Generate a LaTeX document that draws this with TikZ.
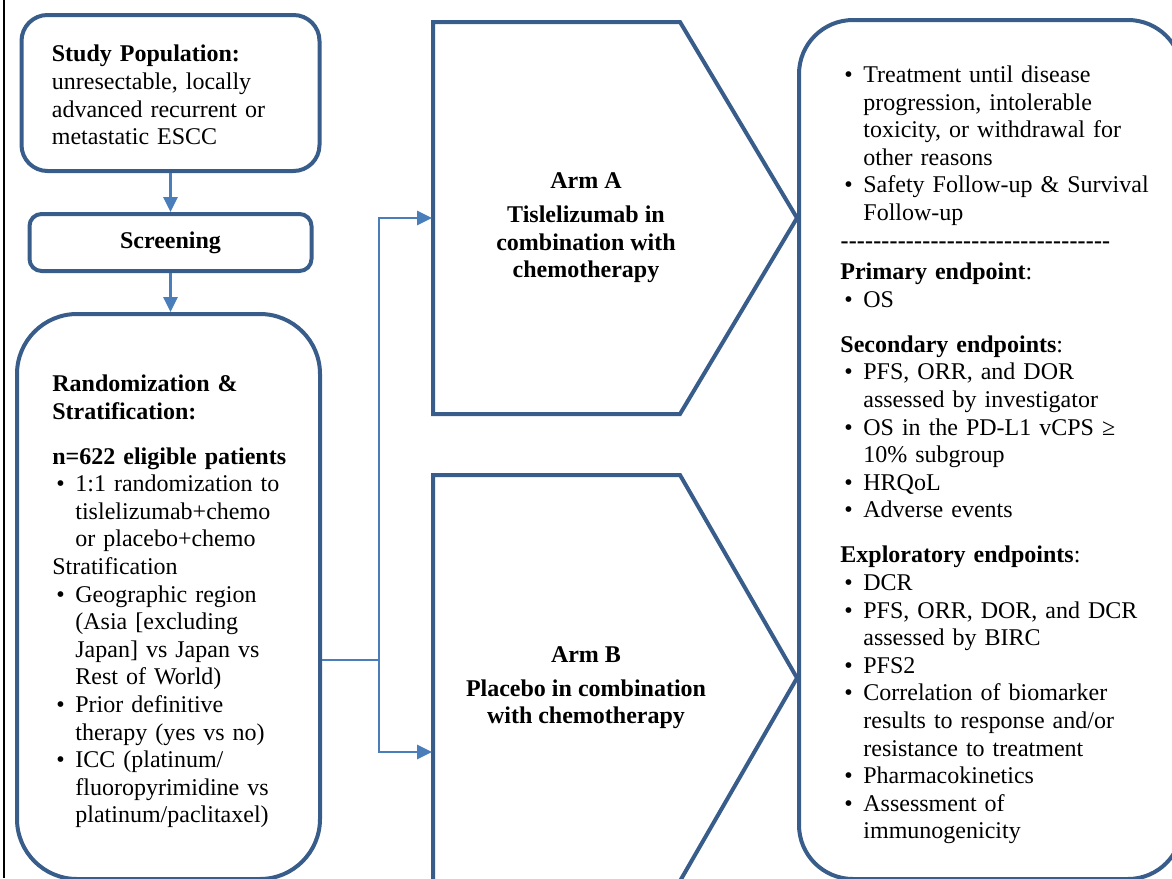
\documentclass[tikz,border=0pt]{standalone}
\usepackage{fontspec}
\setmainfont{Liberation Serif}
\usetikzlibrary{arrows.meta}
\definecolor{boxblue}{RGB}{56,93,138}
\definecolor{linkblue}{RGB}{74,126,187}
\setlength{\parindent}{0pt}
\hyphenpenalty=10000
\newcommand{\bul}[1]{\par\hangindent=11.5pt\hangafter=1\noindent\hbox to 11.5pt{\hskip2pt\textbullet\hfil}#1\par}
\newcommand{\dashrow}{\hbox to 135pt{\bfseries\xleaders\hbox{-}\hfill}\par}
\begin{document}
\begin{tikzpicture}[x=0.5pt,y=-0.5pt,
    panel/.style={draw=boxblue,line width=2pt},
    link/.style={draw=linkblue,line width=1.4pt},
    tip/.style={-{Triangle[length=7.5pt,width=7pt]}},
    txt/.style={font=\fontsize{12pt}{13.8pt}\selectfont,inner sep=0pt,anchor=west,align=left},
    btxt/.style={font=\fontsize{12pt}{13.8pt}\selectfont\bfseries}]
    \useasboundingbox (0,0) rectangle (1172,878);
    \clip (0,0) rectangle (1172,878);
    \draw[line width=1pt] (4,0) -- (4,878);

    \node (study) at (170.5,93)[panel,rounded corners=13pt,minimum width=149pt,minimum height=78pt]{};
    \node (studytext) at ([xshift=16pt,yshift=-1pt]study.west)[txt,text width=130pt]
        {\textbf{Study Population:}\newline unresectable, locally\newline advanced recurrent or\newline metastatic ESCC};
    \node (screen) at (170.5,242.5)[panel,btxt,rounded corners=6pt,minimum width=141pt,minimum height=28.5pt]{Screening};
    \node (rand) at (168.5,596.5)[panel,rounded corners=30pt,minimum width=151.5pt,minimum height=282.5pt]{};
    \node (randtext) at ([xshift=18.5pt,yshift=-2.5pt]rand.west)[txt,text width=130pt]
        {\textbf{Randomization \&}\newline \textbf{Stratification:}\par\vspace{8.7pt}
         \textbf{n=622 eligible patients}\par
         \bul{1:1 randomization to\newline tislelizumab+chemo\newline or placebo+chemo}
         Stratification\par
         \bul{Geographic region\newline (Asia [excluding\newline Japan] vs Japan vs\newline Rest of World)}
         \bul{Prior definitive\newline therapy (yes vs no)}
         \bul{ICC (platinum/\newline fluoropyrimidine vs\newline platinum/paclitaxel)}};

    \draw[panel] (433,22) -- (680,22) -- (797,218) -- (680,414) -- (433,414) -- cycle;
    \draw[panel] (433,475) -- (680,475) -- (797,678) -- (680,881) -- (433,881) -- cycle;
    \node (armA) at (586,228)[btxt,align=center]{Arm A\\[3pt] Tislelizumab in\\ combination with\\ chemotherapy};
    \node (armB) at (586,688)[btxt,align=center]{Arm B\\[3pt] Placebo in combination\\ with chemotherapy};

    \node (result) at (990.5,449.5)[panel,rounded corners=27pt,minimum width=191.5pt,minimum height=429.5pt]{};
    \node (resulttext) at ([xshift=21.5pt]result.west)[txt,text width=170pt]
        {\bul{Treatment until disease\newline progression, intolerable\newline toxicity, or withdrawal for\newline other reasons}
         \bul{Safety Follow-up \& Survival\newline Follow-up}
         \dashrow\vspace{2pt}
         \textbf{Primary endpoint}:\par
         \bul{OS}\vspace{8.7pt}
         \textbf{Secondary endpoints}:\par
         \bul{PFS, ORR, and DOR\newline assessed by investigator}
         \bul{OS in the PD-L1 vCPS ≥\newline 10\% subgroup}
         \bul{HRQoL}
         \bul{Adverse events}\vspace{8.7pt}
         \textbf{Exploratory endpoints}:\par
         \bul{DCR}
         \bul{PFS, ORR, DOR, and DCR\newline assessed by BIRC}
         \bul{PFS2}
         \bul{Correlation of biomarker\newline results to response and/or\newline resistance to treatment}
         \bul{Pharmacokinetics}
         \bul{Assessment of\newline immunogenicity}};

    \coordinate (fork) at (379,660);
    \coordinate (inA) at (432,218);
    \coordinate (inB) at (432,752);
    \draw[link,tip] (study) -- (screen);
    \draw[link,tip] (screen.south) -- (screen.south |- rand.north);
    \draw[link] (rand.east |- fork) -- (fork);
    \draw[link,tip] (fork) |- (inA);
    \draw[link,tip] (fork) |- (inB);
\end{tikzpicture}
\end{document}
